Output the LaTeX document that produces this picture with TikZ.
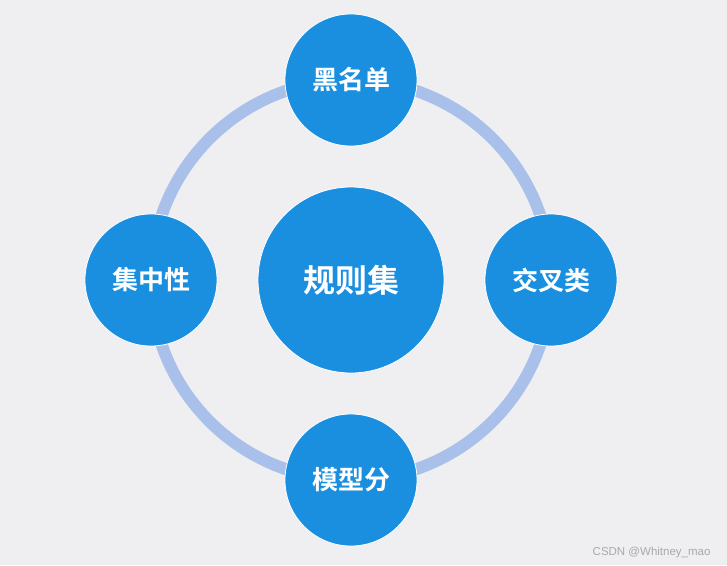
\documentclass[tikz,border=0pt]{standalone}
\usepackage{fontspec}
\newfontfamily\cjk{Noto Sans CJK SC}[BoldFont={Noto Sans CJK SC Bold}]
\setsansfont{Liberation Sans}
\usepackage{tikz}
\usetikzlibrary{positioning,calc}

\definecolor{bgcol}{HTML}{EFEFF1}
\definecolor{ballblue}{HTML}{1A8FE0}
\definecolor{ringblue}{HTML}{A9C1EA}
\definecolor{markgray}{HTML}{A8A8AE}

\begin{document}
\begin{tikzpicture}[
    x=1pt, y=-1pt,
    ball/.style={circle, fill=ballblue, draw=white, line width=0.8pt, inner sep=0pt, text=white, font=\cjk\bfseries\fontsize{26}{30}\selectfont},
    bigball/.style={ball, minimum size=186pt, font=\cjk\bfseries\fontsize{32}{36}\selectfont},
    smallball/.style={ball, minimum size=132pt},
    ring/.style={draw=ringblue, line width=12pt},
    lbl/.style={font=\sffamily\fontsize{11.5}{13}\selectfont, text=markgray, anchor=east}
  ]
    \fill[bgcol] (0,0) rectangle (727,565);
    \useasboundingbox (0,0) rectangle (727,565);
    % ring behind the four outer circles
    \coordinate (mid) at (351,280);
    \draw[ring] (mid) circle[radius=200];
    \node[bigball] (rules) at (mid) {规则集};
    \node[smallball] (black) at ($(mid)+(0,-200)$) {黑名单};
    \node[smallball] (cross) at ($(mid)+(200,0)$) {交叉类};
    \node[smallball] (model) at ($(mid)+(0,200)$) {模型分};
    \node[smallball] (conc) at ($(mid)+(-200,0)$) {集中性};
    \node[lbl] (mark) at (714,553) {CSDN @Whitney\_mao};
\end{tikzpicture}
\end{document}
